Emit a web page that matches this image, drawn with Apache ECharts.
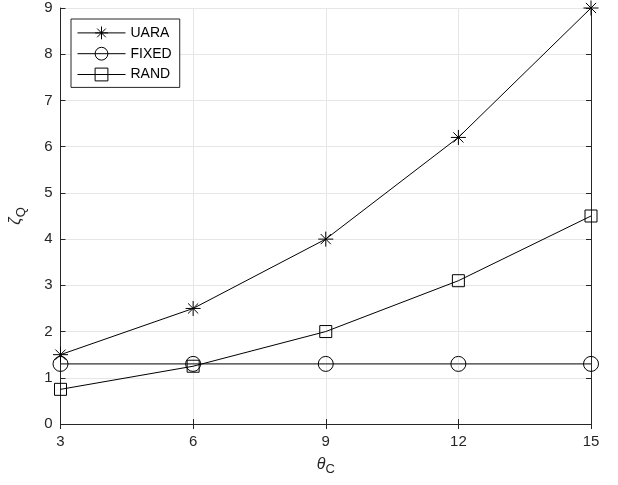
<!DOCTYPE html>
<html><head><meta charset="utf-8">
<script src="https://cdn.jsdelivr.net/npm/echarts@6/dist/echarts.min.js"></script>
<style>html,body{margin:0;padding:0;background:#fff}#c{width:618px;height:485px}</style>
</head><body><div id="c"></div>
<script>
const thetaC = [3, 6, 9, 12, 15];
const uara = [1.5, 2.5, 4.0, 6.2, 9.0];
const fixed = [1.3, 1.3, 1.3, 1.3, 1.3];
const rand = [0.75, 1.25, 2.0, 3.1, 4.5];
const xTicks = [3, 6, 9, 12, 15];
const yTicks = [0, 1, 2, 3, 4, 5, 6, 7, 8, 9];

const pairs = ys => thetaC.map((x, i) => [x, ys[i]]);
const star = 'path://M0,5L10,5M5,0L5,10M1.6,1.6L8.4,8.4M8.4,1.6L1.6,8.4';
const ax = '#262626';
const font = 'Liberation Sans, Arial, sans-serif';

function mk(name, data, symbol, size) {
  return {
    name, type: 'line', data: pairs(data), symbol, symbolSize: size,
    showAllSymbol: true,
    lineStyle: { color: '#000', width: 1 },
    itemStyle: { color: 'none', borderColor: '#000', borderWidth: 1 },
    emphasis: { disabled: true }, animation: false, z: 5
  };
}

const chart = echarts.init(document.getElementById('c'));
chart.setOption({
  animation: false,
  textStyle: { fontFamily: font },
  grid: { left: 59, right: 27, top: 8, bottom: 61 },
  legend: {
    orient: 'vertical', left: 71, top: 19,
    padding: [5, 8, 4, 6], itemGap: 3, itemWidth: 48, itemHeight: 16,
    borderColor: ax, borderWidth: 1, backgroundColor: '#fff',
    lineStyle: { width: 1, color: '#000' },
    itemStyle: { borderWidth: 1, borderColor: '#000', color: 'none' },
    textStyle: { fontSize: 14, color: '#000', fontFamily: font },
    data: ['UARA', 'FIXED', 'RAND']
  },
  xAxis: [{
    type: 'value', min: xTicks[0], max: xTicks[xTicks.length - 1], interval: 3,
    name: '{a|θ}{b|C}', nameLocation: 'middle', nameGap: 29,
    nameTextStyle: { rich: {
      a: { fontSize: 16, color: ax, fontFamily: font, fontStyle: 'italic' },
      b: { fontSize: 13, color: ax, fontFamily: font, padding: [10, 0, 0, 0] } } },
    axisLine: { lineStyle: { color: ax } },
    axisTick: { inside: true, length: 5, lineStyle: { color: ax } },
    axisLabel: { fontSize: 15, color: ax, margin: 10 },
    splitLine: { show: true, lineStyle: { color: '#e6e6e6' } }
  }, {
    type: 'value', position: 'top', min: 3, max: 15, interval: 3,
    axisLine: { show: true, lineStyle: { color: ax } },
    axisTick: { inside: true, length: 5, lineStyle: { color: ax } },
    axisLabel: { show: false }, splitLine: { show: false }
  }],
  yAxis: [{
    type: 'value', min: yTicks[0], max: yTicks[yTicks.length - 1], interval: 1,
    name: '{a|ζ}{b|Q}', nameLocation: 'middle', nameGap: 33,
    nameTextStyle: { rich: {
      a: { fontSize: 16, color: ax, fontFamily: font, fontStyle: 'italic' },
      b: { fontSize: 13, color: ax, fontFamily: font, padding: [10, 0, 0, 0] } } },
    axisLine: { show: true, lineStyle: { color: ax } },
    axisTick: { show: true, inside: true, length: 5, lineStyle: { color: ax } },
    axisLabel: { fontSize: 15, color: ax, margin: 8 },
    splitLine: { show: true, lineStyle: { color: '#e6e6e6' } }
  }, {
    type: 'value', position: 'right', min: 0, max: 9, interval: 1,
    axisLine: { show: true, lineStyle: { color: ax } },
    axisTick: { show: true, inside: true, length: 5, lineStyle: { color: ax } },
    axisLabel: { show: false }, splitLine: { show: false }
  }],
  series: [
    mk('UARA', uara, star, 15),
    mk('FIXED', fixed, 'circle', 15),
    mk('RAND', rand, 'rect', 12)
  ]
});
</script></body></html>
